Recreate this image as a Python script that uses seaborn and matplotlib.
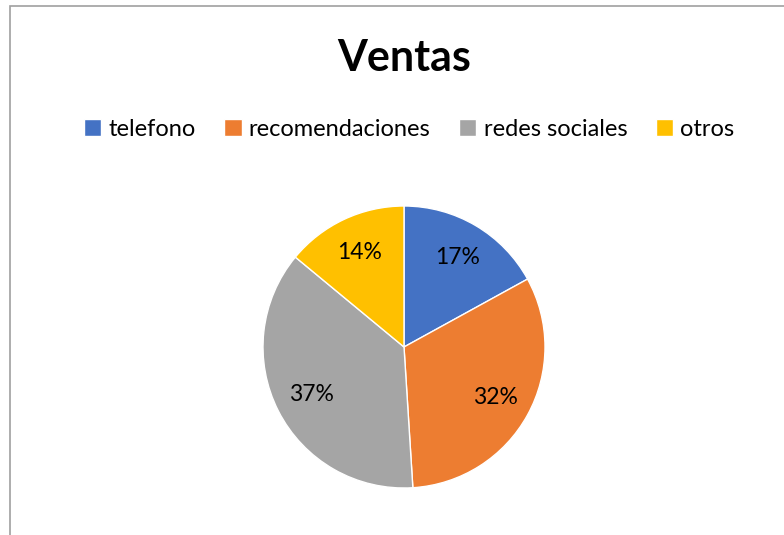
import matplotlib
matplotlib.use("Agg")
import matplotlib.pyplot as plt
import seaborn as sns
from matplotlib.patches import Rectangle

# datos del grafico
categorias = ['telefono', 'recomendaciones', 'redes sociales', 'otros']
valores = [17, 32, 37, 14]
colores = ['#4472C4', '#ED7D31', '#A5A5A5', '#FFC000']

sns.set_theme(style="white")
plt.rcParams['font.family'] = ['Lato', 'DejaVu Sans']

fig = plt.figure(figsize=(7.84, 5.35), dpi=100)
fig.patch.set_facecolor('white')

# marco del grafico (solo se ven borde izquierdo y superior)
fig.add_artist(Rectangle((10 / 784, -0.1), 1.2, 1 - 6 / 535 + 0.1,
                         transform=fig.transFigure, fill=False,
                         edgecolor='#A0A0A0', linewidth=1.2))

# area del pastel: centro (404, 347), radio 141 px
r = 141
ax = fig.add_axes([(404 - r) / 784, (535 - 347 - r) / 535, 2 * r / 784, 2 * r / 535])
wedges, texts, autotexts = ax.pie(
    valores, colors=sns.color_palette(colores), startangle=90, counterclock=False,
    autopct='%1.0f%%', pctdistance=0.74, radius=1,
    wedgeprops=dict(edgecolor='white', linewidth=1.0),
    textprops=dict(fontsize=16.5, color='black'))
ax.set_xlim(-1, 1)
ax.set_ylim(-1, 1)
ax.set_aspect('equal')
ax.axis('off')

fig.text(404 / 784, 1 - 58 / 535, 'Ventas', ha='center', va='center',
         fontsize=31, fontweight='bold', color='black')

fig.legend(wedges, categorias, loc='center', bbox_to_anchor=(409 / 784, 1 - 129 / 535),
           ncol=4, frameon=False, fontsize=17, handlelength=0.75, handleheight=0.75,
           handletextpad=0.3, columnspacing=1.2, labelcolor='black')

fig.savefig('out.png', dpi=100, facecolor='white')
